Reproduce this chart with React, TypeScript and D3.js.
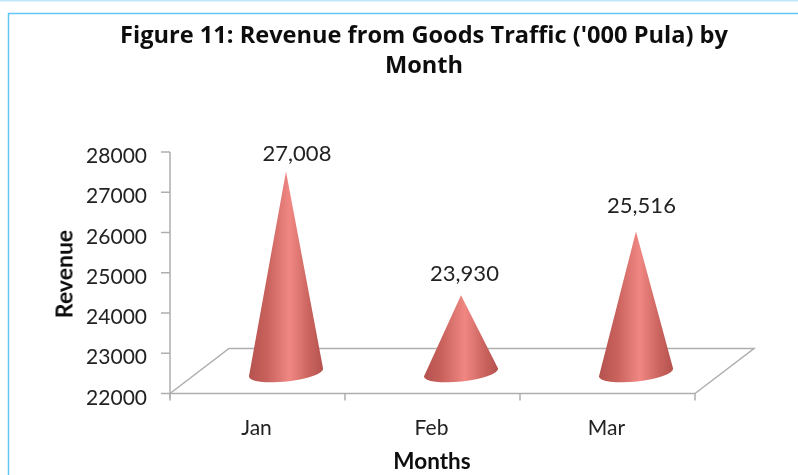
import React from "react";
import * as d3 from "d3";

const titleLines = ["Figure 11: Revenue from Goods Traffic ('000 Pula) by", "Month"];
const months = ["Jan", "Feb", "Mar"];
const revenue = [27008, 23930, 25516];
const valueLabels = ["27,008", "23,930", "25,516"];
const yTicks = [22000, 23000, 24000, 25000, 26000, 27000, 28000];

const W = 798, H = 475;
const y = d3.scaleLinear().domain([22000, 28000]).range([393.5, 152]);
const x = d3.scaleBand().domain(months).range([170, 695]);
const depthX = 59, depthY = -45;
const coneDx = 28.5, coneDy = -21;
const rx = 37.3, ry = 9, tilt = -6.2;
const labelNudgeX = [11, 3.5, 5.5];
const labelNudgeY = [-10, -14, -18];

const grey = "#aeaeae";
const ink = "#222";
const labelFont = "Lato, 'Open Sans', sans-serif";

export default function App() {
  const y0 = y(22000);
  const x0 = 170, x1 = 695;
  const floor = d3.line()([
    [x0, y0], [x0 + depthX, y0 + depthY], [x1 + depthX, y0 + depthY], [x1, y0],
  ]) as string;
  const rad = (tilt * Math.PI) / 180;
  const ex = rx * Math.cos(rad), ey = rx * Math.sin(rad);
  return (
    <svg width={W} height={H} style={{ position: "fixed", left: 0, top: 0, background: "#fff" }}>
      <defs>
        <linearGradient id="cone" x1="0" x2="1" y1="0" y2="0">
          <stop offset="0" stopColor="#b4524e" />
          <stop offset="0.25" stopColor="#c9625d" />
          <stop offset="0.55" stopColor="#f08782" />
          <stop offset="0.8" stopColor="#cc6560" />
          <stop offset="1" stopColor="#b4524e" />
        </linearGradient>
        <filter id="soft" x="-5%" y="-5%" width="110%" height="110%">
          <feGaussianBlur stdDeviation="0.45" />
        </filter>
      </defs>
      <rect x={0} y={0} width={W} height={1.5} fill="#bfe9fb" />
      <path d={`M8.5 ${H}V13.5H${W}`} fill="none" stroke="#63c6f2" strokeWidth={1.5} />
      <g filter="url(#soft)">
        <g fontFamily="'Open Sans', sans-serif" fontWeight={700} fontSize={23.6} fill="#111" textAnchor="middle">
          {titleLines.map((t, i) => (
            <text key={t} x={424} y={43 + i * 30}>{t}</text>
          ))}
        </g>
        <path d={floor} fill="none" stroke={grey} strokeWidth={1.5} />
        <line x1={x0} x2={x1} y1={y0} y2={y0} stroke={grey} strokeWidth={1.5} />
        <line x1={x0} x2={x0} y1={y(28000)} y2={y0 + 5} stroke={grey} strokeWidth={1.5} />
        {yTicks.map((t) => (
          <g key={t}>
            <line x1={x0 - 9} x2={x0} y1={y(t)} y2={y(t)} stroke={grey} strokeWidth={1.5} />
            <text x={147} y={y(t) + 11} textAnchor="end" fontFamily={labelFont} fontSize={21} fill={ink}>{t}</text>
          </g>
        ))}
        {[...months.map((m) => x(m) as number), x1].map((p) => (
          <line key={p} x1={p} x2={p} y1={y0} y2={y0 + 7} stroke={grey} strokeWidth={1.5} />
        ))}
        {months.map((m, i) => {
          const cx = (x(m) as number) + x.bandwidth() / 2 + coneDx;
          const cy = y0 + coneDy;
          const tip = y(revenue[i]) + coneDy + 0.5;
          const d = `M${cx - ex} ${cy - ey}L${cx} ${tip}L${cx + ex} ${cy + ey}A${rx} ${ry} ${tilt} 0 1 ${cx - ex} ${cy - ey}Z`;
          return (
            <g key={m}>
              <path d={d} fill="url(#cone)" />
              <text x={cx + labelNudgeX[i]} y={tip + labelNudgeY[i]} textAnchor="middle" fontFamily={labelFont} fontSize={22} fill={ink}>{valueLabels[i]}</text>
              <text x={cx - coneDx - 1} y={435} textAnchor="middle" fontFamily={labelFont} fontSize={21} fill={ink}>{m}</text>
            </g>
          );
        })}
        <text x={432} y={469} textAnchor="middle" fontFamily={labelFont} fontWeight={700} fontSize={22.5} fill="#111">Months</text>
        <text transform="translate(72.5,274) rotate(-90)" textAnchor="middle" fontFamily={labelFont} fontWeight={700} fontSize={23} fill="#111">Revenue</text>
      </g>
    </svg>
  );
}
